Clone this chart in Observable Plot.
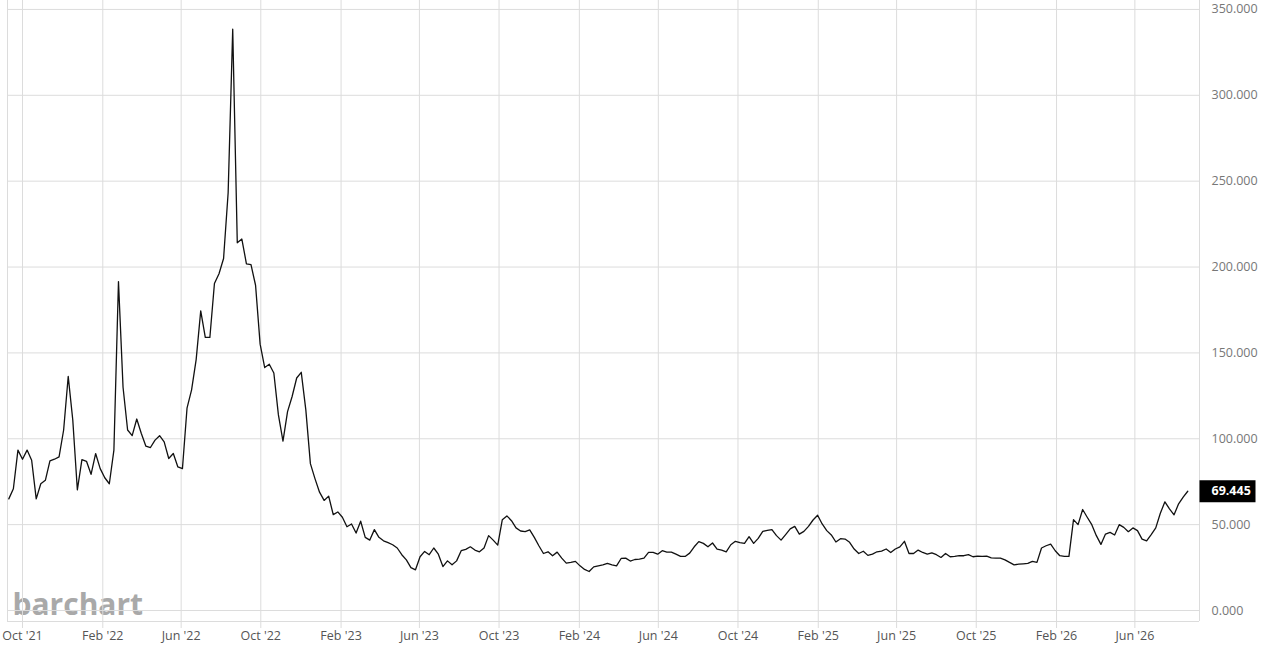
<!DOCTYPE html>
<html>
<head>
<meta charset="utf-8">
<script src="https://cdn.jsdelivr.net/npm/d3@7"></script>
<script src="https://cdn.jsdelivr.net/npm/@observablehq/plot@0.6"></script>
<style>
  body { margin: 0; background: #fff; }
  #chart { width: 1280px; height: 646px; }
</style>
</head>
<body>
<div id="chart"></div>
<script>
// weekly closes, first week and values
const firstWeek = "2021-09-10";
const values = [
  65.0, 70.9, 93.4, 88.1, 93.4, 87.5, 65.0, 73.8, 75.8, 87.1,
  88.1, 89.5, 105.1, 136.3, 110.9, 70.3, 87.9, 86.9, 79.3, 91.4,
  82.6, 77.3, 73.8, 93.4, 191.5, 130.0, 105.1, 101.8, 111.5, 103.1,
  95.7, 94.9, 99.2, 101.8, 98.2, 88.5, 91.4, 83.6, 82.6, 117.8,
  128.5, 146.1, 174.5, 159.0, 159.0, 190.4, 196.1, 205.0, 243.3, 338.5,
  214.1, 216.3, 201.9, 201.4, 189.4, 155.1, 141.5, 143.4, 138.3, 113.9,
  98.6, 115.8, 124.6, 135.4, 138.7, 116.8, 85.5, 76.8, 68.9, 64.1,
  66.6,
  55.8, 57.4, 54.3, 48.8, 50.4, 45.1, 52.0, 42.6, 41.0, 47.1,
  42.6, 40.6, 39.5, 38.3, 36.4, 32.5, 29.5, 25.0, 23.7, 31.3,
  34.4, 32.5, 36.4, 32.8, 25.6, 28.9, 26.6, 28.9, 34.8, 35.6,
  37.1, 35.2, 34.2, 36.4, 43.6, 41.0, 38.1, 52.9, 55.1, 52.3,
  48.1, 46.3, 45.9, 46.9, 42.6, 37.7, 33.2,
  34.2, 31.9, 34.0, 30.5, 27.6, 28.0, 28.6, 26.0, 23.9, 22.7,
  25.4, 26.0, 26.6, 27.4, 26.6, 26.0, 30.3, 30.5, 28.8, 29.7,
  29.9, 30.5, 33.8, 33.8, 32.8, 34.8, 34.0, 34.0, 32.8, 31.5,
  31.5, 33.4, 37.1, 40.1, 39.1, 37.1, 39.3, 35.8, 35.2, 34.2,
  38.3, 40.3, 39.5, 39.1, 43.0, 39.1,
  42.0, 46.1, 46.7, 47.1, 43.6, 41.0, 44.2, 47.5, 49.0, 44.5,
  46.1, 49.0, 52.7, 55.5, 50.4, 46.5, 44.0, 39.9, 41.8, 41.6,
  39.7, 35.8, 33.2, 34.5, 32.1, 32.8, 34.2, 34.6, 35.8, 33.8,
  35.8, 37.1, 40.3, 33.2, 33.2, 35.2, 33.8, 32.8, 33.6, 32.5,
  30.9, 33.2, 31.3, 31.5, 31.9, 31.9, 32.5, 31.3,
  31.7, 31.5, 31.7, 30.7, 30.5, 30.5, 29.5, 28.0, 26.6, 27.0,
  27.2, 27.4, 28.6, 28.0, 36.4, 37.7, 38.7, 34.8, 31.9, 31.5,
  31.5, 52.9, 50.0, 58.8, 54.3, 50.0, 43.6, 38.5, 44.5, 45.5,
  44.0, 50.0, 48.4, 45.9, 48.1, 46.5, 41.6, 40.6, 44.2, 48.1,
  56.6, 63.3, 59.2, 55.7, 62.1, 66.0, 69.445
];
const lastLabel = "69.445";

const xTicks = [
  "2021-10-01", "2022-02-01", "2022-06-01", "2022-10-01",
  "2023-02-01", "2023-06-01", "2023-10-01",
  "2024-02-01", "2024-06-01", "2024-10-01",
  "2025-02-01", "2025-06-01", "2025-10-01",
  "2026-02-01", "2026-06-01"
];
const yTicks = [0, 50, 100, 150, 200, 250, 300, 350];
const xDomain = ["2021-09-08", "2026-09-08"];
const yDomain = [-6.4, 355.2];

const start = new Date(firstWeek);
const data = values.map((v, i) => ({ date: d3.utcDay.offset(start, 7 * i), value: v }));
const last = data[data.length - 1];
const tickDates = xTicks.map(d => new Date(d));

// black tag on the right axis for the last value
const tag = { draw(ctx) { ctx.rect(0, -11, 56, 22); } };

const gridColor = "#dcdcdc";

const chart = Plot.plot({
  width: 1280,
  height: 646,
  marginTop: 0,
  marginLeft: 7,
  marginRight: 81,
  marginBottom: 25,
  style: { fontFamily: "'Open Sans', sans-serif", fontSize: "12.5px", background: "#fff" },
  x: { type: "utc", domain: xDomain.map(d => new Date(d)) },
  y: { domain: yDomain },
  marks: [
    Plot.text(["barchart"], {
      frameAnchor: "bottom-left", dx: 5, dy: -7, lineAnchor: "bottom", textAnchor: "start",
      fontSize: 30, fontWeight: 700, fill: "#a9a9a9", fontFamily: "'Open Sans', sans-serif"
    }),
    Plot.gridY(yTicks, { stroke: gridColor, strokeOpacity: 1 }),
    Plot.gridX(tickDates, { stroke: gridColor, strokeOpacity: 1 }),
    Plot.ruleX([xDomain[0], xDomain[1]].map(d => new Date(d)), { stroke: gridColor }),
    Plot.ruleY([yDomain[0]], { stroke: gridColor }),
    Plot.axisX(tickDates, {
      tickSize: 7, tickPadding: 3, stroke: gridColor, fill: "#555",
      tickFormat: d3.utcFormat("%b '%y"), label: null
    }),
    Plot.axisY(yTicks, {
      anchor: "right", tickSize: 0, tickPadding: 12, fill: "#777",
      tickFormat: d3.format(".3f"), label: null
    }),
    Plot.lineY(data, { x: "date", y: "value", stroke: "#111", strokeWidth: 1.3 }),
    Plot.dot([last], { y: "value", frameAnchor: "right", symbol: tag, fill: "#000" }),
    Plot.text([last], {
      y: "value", frameAnchor: "right", text: () => lastLabel, dx: 12,
      textAnchor: "start", fill: "#fff", fontWeight: 700
    })
  ]
});

d3.select("#chart").append(() => chart);
</script>
</body>
</html>
